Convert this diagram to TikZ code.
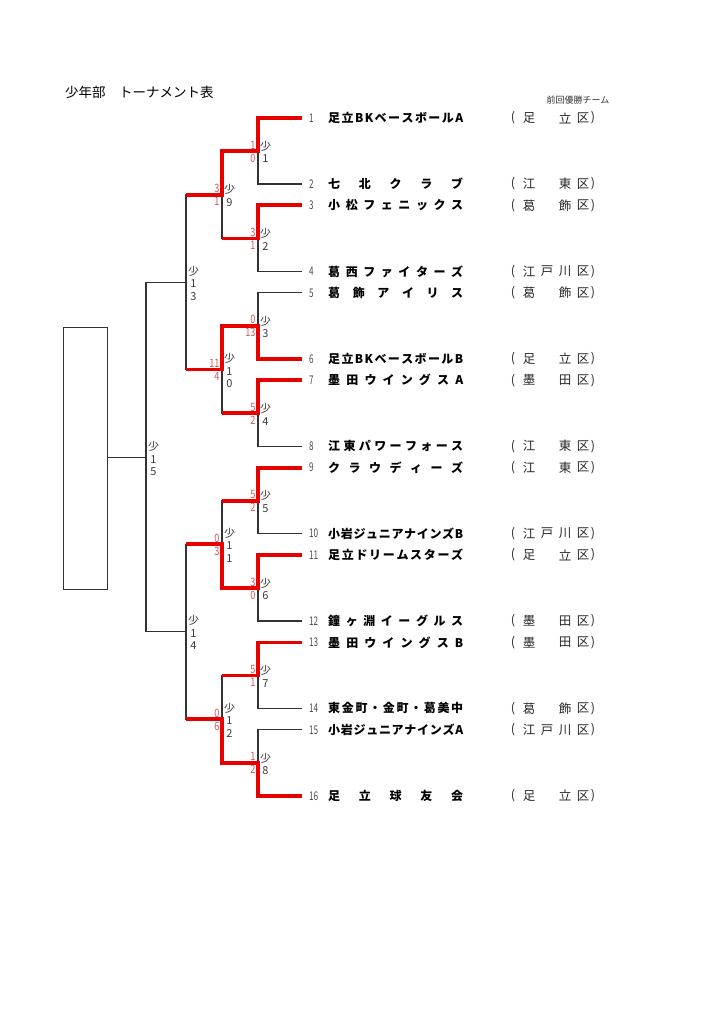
\documentclass[tikz,border=0pt]{standalone}
\usepackage{fontspec}
\usetikzlibrary{calc}
\newfontfamily\jp{Noto Sans CJK JP}
\definecolor{rl}{RGB}{230,0,0}
\definecolor{scc}{RGB}{215,85,85}
\definecolor{lg}{RGB}{60,60,60}
\def\spr#1{\sprb#1\relax}
\def\sprb#1{#1\sprc}
\def\sprc#1{\ifx\relax#1\else\hfil#1\expandafter\sprc\fi}
\begin{document}
\begin{tikzpicture}[x=1pt,y=-1pt,
  bk/.style={line width=1.1pt,draw=black!80},
  win/.style={line width=3.8pt,draw=rl,line join=miter},
  num/.style={anchor=west,inner sep=0,text=black!70,font=\jp\fontsize{12}{14}\selectfont},
  nm/.style={anchor=west,inner sep=0,font=\jp\bfseries\fontsize{12}{14}\selectfont},
  wd/.style={inner sep=0,text=black!85,font=\jp\fontsize{12.5}{14}\selectfont},
  lab/.style={inner sep=0,align=center,text=lg,font=\jp\fontsize{11}{12.5}\selectfont},
  scr/.style={anchor=east,inner sep=0,text=scc,font=\jp\fontsize{11.5}{12}\selectfont}]
\useasboundingbox (0,0) rectangle (724,1024);
\newcommand\team[7]{%
  \coordinate (e#1) at (302,#2);
  \node[num] (n#1) at (309,#2) {\scalebox{0.68}[1]{#1}};
  \node[nm] (t#1) at (328,#2) {\makebox[135pt][s]{\spr{#3}}};
  \node[wd] (wl#1) at (513,#2) {(};
  \node[wd] (wa#1) at (529,#2) {#4};
  \node[wd] (wb#1) at (547,#2) {#5};
  \node[wd] (wc#1) at (565,#2) {#6};
  \node[wd] (wd#1) at (583,#2) {#7};
  \node[wd] (wr#1) at (593,#2) {)};
}
\newcommand\match[6]{%
  \coordinate (m#1) at (#2,#3);
  \node[lab] (l#1) at ($(m#1)+(7.5,1)$) {#4};
  \node[scr] (s#1a) at ($(m#1)+(-2.3,-6)$) {\scalebox{0.8}[1]{#5}};
  \node[scr] (s#1b) at ($(m#1)+(-2.3,7)$) {\scalebox{0.8}[1]{#6}};
}
% title
\node[anchor=west,inner sep=0,font=\jp\fontsize{13.5}{16}\selectfont] (title) at (65,92) {少年部　トーナメント表};
\node[inner sep=0,text=black!80,font=\jp\fontsize{9}{10}\selectfont] (prev) at (578,100) {前回優勝チーム};
% teams
\team{1}{118}{足立BKベースボールA}{足}{}{立}{区}
\team{2}{184}{七北クラブ}{江}{}{東}{区}
\team{3}{205.4}{小松フェニックス}{葛}{}{飾}{区}
\team{4}{271.4}{葛西ファイターズ}{江}{戸}{川}{区}
\team{5}{292.8}{葛飾アイリス}{葛}{}{飾}{区}
\team{6}{358.8}{足立BKベースボールB}{足}{}{立}{区}
\team{7}{380.2}{墨田ウイングスA}{墨}{}{田}{区}
\team{8}{446.2}{江東パワーフォース}{江}{}{東}{区}
\team{9}{467.6}{クラウディーズ}{江}{}{東}{区}
\team{10}{533.6}{小岩ジュニアナインズB}{江}{戸}{川}{区}
\team{11}{555}{足立ドリームスターズ}{足}{}{立}{区}
\team{12}{621}{鐘ヶ淵イーグルス}{墨}{}{田}{区}
\team{13}{642.4}{墨田ウイングスB}{墨}{}{田}{区}
\team{14}{708.4}{東金町・金町・葛美中}{葛}{}{飾}{区}
\team{15}{729.8}{小岩ジュニアナインズA}{江}{戸}{川}{区}
\team{16}{795.8}{足立球友会}{足}{}{立}{区}
% matches
\match{1}{258}{151}{少\\1}{1}{0}
\match{2}{258}{238.4}{少\\2}{3}{1}
\match{3}{258}{325.8}{少\\3}{0}{13}
\match{4}{258}{413.2}{少\\4}{5}{2}
\match{5}{258}{500.6}{少\\5}{5}{2}
\match{6}{258}{588}{少\\6}{3}{0}
\match{7}{258}{675.4}{少\\7}{5}{1}
\match{8}{258}{762.8}{少\\8}{1}{2}
\match{9}{222}{194.7}{少\\9}{3}{1}
\match{10}{222}{369.5}{少\\1\\0}{11}{4}
\match{11}{222}{544.3}{少\\1\\1}{0}{3}
\match{12}{222}{719.1}{少\\1\\2}{0}{6}
\match{13}{186}{282.1}{少\\1\\3}{}{}
\match{14}{186}{631.7}{少\\1\\4}{}{}
\match{15}{146}{457.5}{少\\1\\5}{}{}
% champion box
\node[draw=black!80,line width=1.1pt,minimum width=44pt,minimum height=262pt,anchor=north west,inner sep=0] (champ) at (63,327) {};
% black bracket
\draw[bk] (e1) -| (m1) |- (e2);
\draw[bk] (e3) -| (m2) |- (e4);
\draw[bk] (e5) -| (m3) |- (e6);
\draw[bk] (e7) -| (m4) |- (e8);
\draw[bk] (e9) -| (m5) |- (e10);
\draw[bk] (e11) -| (m6) |- (e12);
\draw[bk] (e13) -| (m7) |- (e14);
\draw[bk] (e15) -| (m8) |- (e16);
\draw[bk] (m1) -| (m9) |- (m2);
\draw[bk] (m3) -| (m10) |- (m4);
\draw[bk] (m5) -| (m11) |- (m6);
\draw[bk] (m7) -| (m12) |- (m8);
\draw[bk] (m9) -| (m13) |- (m10);
\draw[bk] (m11) -| (m14) |- (m12);
\draw[bk] (m13) -| (m15) |- (m14);
\draw[bk] (m15) -- (m15 -| champ.east);
% winners
\draw[win] (e1) -| (m1) -| (m9) -- (m9 -| m13);
\draw[win] (e3) -| (m2) -- (m2 -| m9);
\draw[win] (e6) -| (m3) -| (m10) -- (m10 -| m13);
\draw[win] (e7) -| (m4) -- (m4 -| m10);
\draw[win] (e9) -| (m5) -- (m5 -| m11);
\draw[win] (e11) -| (m6) -| (m11) -- (m11 -| m14);
\draw[win] (e13) -| (m7) -- (m7 -| m12);
\draw[win] (e16) -| (m8) -| (m12) -- (m12 -| m14);
\end{tikzpicture}
\end{document}
